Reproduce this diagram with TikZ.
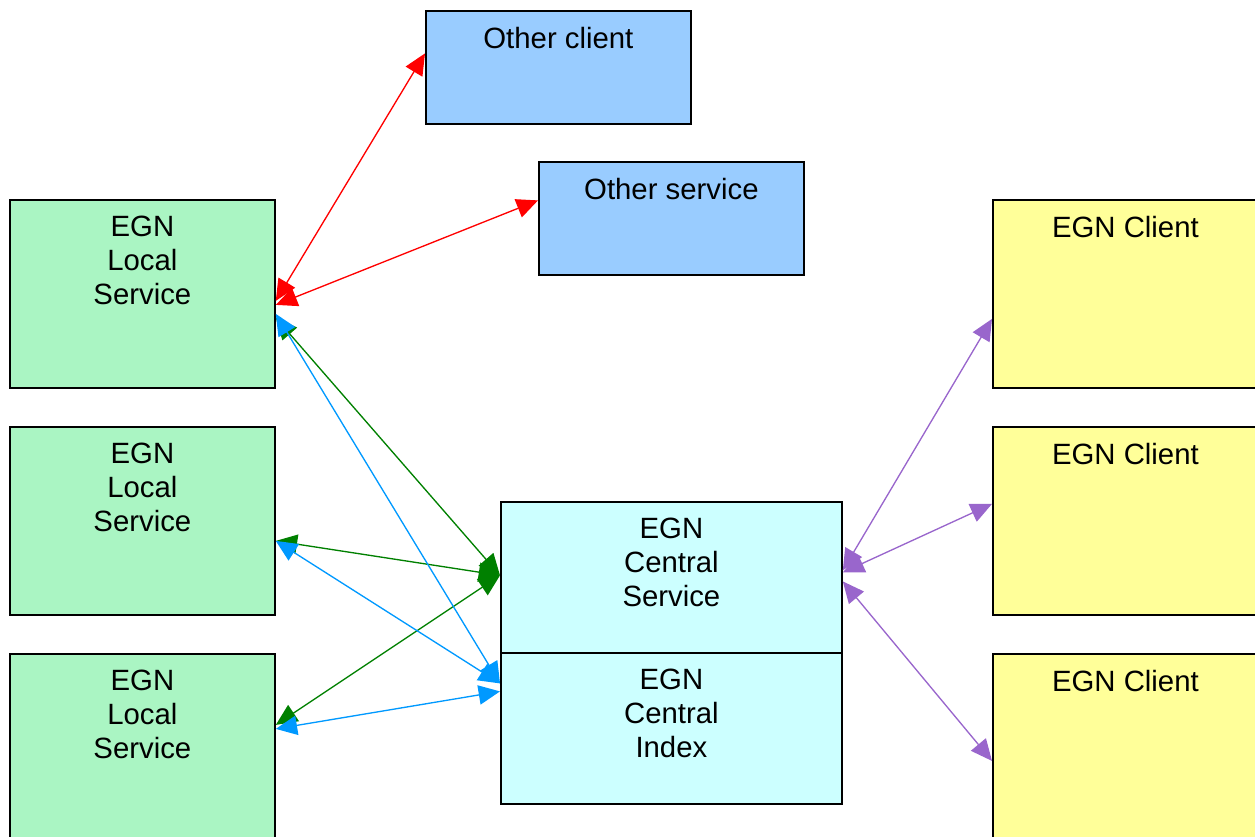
\documentclass[tikz,border=0pt]{standalone}
\usepackage{fontspec}
\setmainfont{Liberation Sans}
\usetikzlibrary{arrows.meta,calc}

\definecolor{localgreen}{RGB}{170,245,195}
\definecolor{otherblue}{RGB}{153,204,255}
\definecolor{centralcyan}{RGB}{204,255,255}
\definecolor{clientyellow}{RGB}{255,255,153}
\definecolor{linkgreen}{RGB}{0,128,0}
\definecolor{linkblue}{RGB}{0,153,255}
\definecolor{linkpurple}{RGB}{153,102,204}

\tikzset{
  box/.style={draw=black, line width=1.35pt, rectangle, inner sep=0pt, anchor=north west},
  localbox/.style={box, fill=localgreen, minimum width=198.75pt, minimum height=141pt},
  clientbox/.style={box, fill=clientyellow, minimum width=198.75pt, minimum height=141pt},
  otherbox/.style={box, fill=otherblue, minimum width=198.75pt, minimum height=84.75pt},
  centralbox/.style={box, fill=centralcyan, minimum width=255.75pt, minimum height=113.25pt},
  lbl/.style={anchor=north, inner sep=0pt, align=center, font=\fontsize{22}{25.3}\selectfont},
  link/.style={line width=1pt, {Triangle[length=16pt,width=14.5pt]}-{Triangle[length=16pt,width=14.5pt]}},
}

\begin{document}
\begin{tikzpicture}[x=0.75pt,y=0.75pt,yscale=-1,xscale=1]
\useasboundingbox (0,0) rectangle (1255,837);

%Shape: Rectangles
\node[otherbox] (oclient) at (425,10) {};
\node[otherbox] (oservice) at (538,161) {};
\node[localbox] (loc1) at (9,199) {};
\node[localbox] (loc2) at (9,426) {};
\node[localbox] (loc3) at (9,653) {};
\node[clientbox] (cli1) at (992,199) {};
\node[clientbox] (cli2) at (992,426) {};
\node[clientbox] (cli3) at (992,653) {};
\node[centralbox] (cserv) at (500,501) {};
\node[centralbox] (cindex) at (500,652) {};

% Text Node
\node[lbl] (oclienttxt) at ($(oclient.north)+(0,17)$) {Other client};
% Text Node
\node[lbl] (oservicetxt) at ($(oservice.north)+(0,17)$) {Other service};
% Text Node
\node[lbl] (loc1txt) at ($(loc1.north)+(0,17)$) {EGN\\Local\\Service};
% Text Node
\node[lbl] (loc2txt) at ($(loc2.north)+(0,17)$) {EGN\\Local\\Service};
% Text Node
\node[lbl] (loc3txt) at ($(loc3.north)+(0,17)$) {EGN\\Local\\Service};
% Text Node
\node[lbl] (cli1txt) at ($(cli1.north)+(0,17)$) {EGN Client};
% Text Node
\node[lbl] (cli2txt) at ($(cli2.north)+(0,17)$) {EGN Client};
% Text Node
\node[lbl] (cli3txt) at ($(cli3.north)+(0,17)$) {EGN Client};
% Text Node
\node[lbl] (cservtxt) at ($(cserv.north)+(0,17)$) {EGN\\Central\\Service};
% Text Node
\node[lbl] (cindextxt) at ($(cindex.north)+(0,17)$) {EGN\\Central\\Index};

%Straight Lines: red
\draw[link, red] ($(loc1.east)+(0,7)$) -- ($(oclient.west)+(0,-14)$);
\draw[link, red] ($(loc1.east)+(0,11)$) -- ($(oservice.west)+(0,-18)$);
%Straight Lines: green
\draw[link, linkgreen] ($(loc1.east)+(0,24)$) -- ($(cserv.west)+(0,-2)$);
\draw[link, linkgreen] ($(loc2.east)+(0,20)$) -- ($(cserv.west)+(0,-2)$);
\draw[link, linkgreen] ($(loc3.east)+(0,-23)$) -- ($(cserv.west)+(0,-2)$);
%Straight Lines: blue
\draw[link, linkblue] ($(loc1.east)+(0,20)$) -- ($(cindex.west)+(0,-45)$);
\draw[link, linkblue] ($(loc2.east)+(0,20)$) -- ($(cindex.west)+(0,-45)$);
\draw[link, linkblue] ($(loc3.east)+(0,-19)$) -- ($(cindex.west)+(0,-37)$);
%Straight Lines: purple
\draw[link, linkpurple] ($(cserv.east)+(0,-7)$) -- ($(cli1.west)+(0,25)$);
\draw[link, linkpurple] ($(cserv.east)+(0,-5)$) -- ($(cli2.west)+(0,-17)$);
\draw[link, linkpurple] ($(cserv.east)+(0,4)$) -- ($(cli3.west)+(0,13)$);

\end{tikzpicture}
\end{document}
